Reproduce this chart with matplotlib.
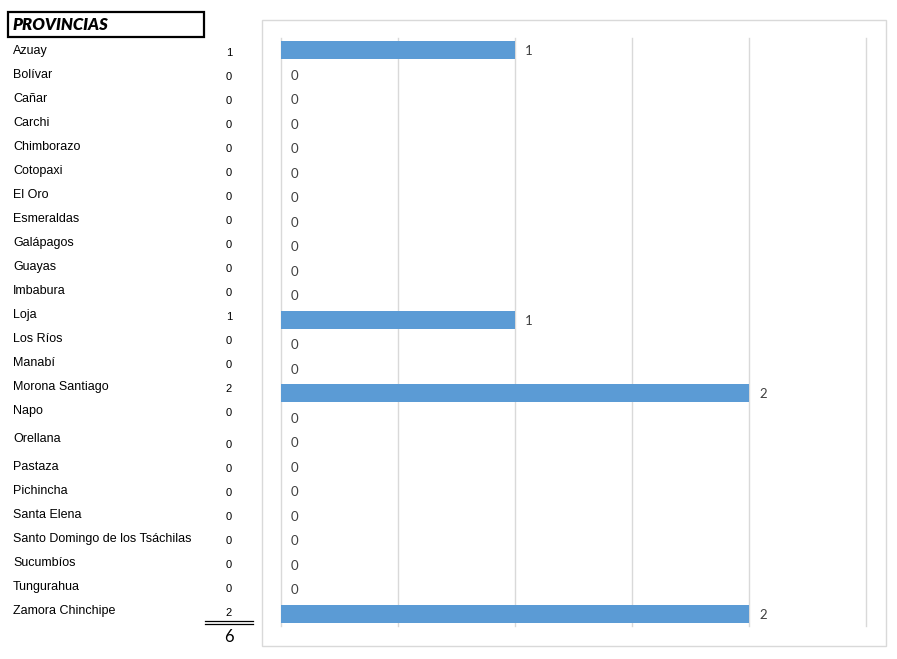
import matplotlib.pyplot as plt
from matplotlib.patches import Rectangle
from matplotlib.lines import Line2D

# Data: cases per province
provinces = ['Azuay', 'Bolívar', 'Cañar', 'Carchi', 'Chimborazo', 'Cotopaxi',
             'El Oro', 'Esmeraldas', 'Galápagos', 'Guayas', 'Imbabura', 'Loja',
             'Los Ríos', 'Manabí', 'Morona Santiago', 'Napo', 'Orellana',
             'Pastaza', 'Pichincha', 'Santa Elena',
             'Santo Domingo de los Tsáchilas', 'Sucumbíos', 'Tungurahua',
             'Zamora Chinchipe']
cases = [1, 0, 0, 0, 0, 0, 0, 0, 0, 0, 0, 1, 0, 0, 2, 0, 0, 0, 0, 0, 0, 0, 0, 2]
header = 'PROVINCIAS'

W, H = 897, 659
fig = plt.figure(figsize=(W / 100, H / 100), dpi=100)


def fx(px):
    return px / W


def fy(py):
    return 1 - py / H


## --- left table --- ##
fig.patches.append(Rectangle((fx(8), fy(37)), fx(196), 25 / H, transform=fig.transFigure,
                             fill=False, edgecolor='black', linewidth=1.6))
fig.text(fx(13), fy(25), header, fontsize=12, fontweight='heavy', fontstyle='italic',
         family='Lato', va='center', ha='left')

for i, (name, val) in enumerate(zip(provinces, cases)):
    y_name = 50 + 24 * i + 4 * (i >= 16) + 4 * (i >= 17)
    y_val = y_name + 2 + 4 * (i == 16)
    fig.text(fx(13), fy(y_name + 1), name, fontsize=9, family='Liberation Sans',
             va='center', ha='left')
    fig.text(fx(229), fy(y_val + 1), str(val), fontsize=8, family='Liberation Sans',
             va='center', ha='center')

# double underline and total
for yy in (621, 624):
    fig.add_artist(Line2D([fx(205), fx(253)], [fy(yy), fy(yy)], color='black', linewidth=0.9))
fig.text(fx(229), fy(637), str(sum(cases)), fontsize=12, family='Lato',
         va='center', ha='center')

## --- bar chart --- ##
fig.patches.append(Rectangle((fx(262), fy(646)), fx(624), 626 / H, transform=fig.transFigure,
                             fill=False, edgecolor='#D9D9D9', linewidth=1))

ax = fig.add_axes([fx(281), fy(626), fx(866) - fx(281), fy(38) - fy(626)])
pos = list(range(len(provinces)))
ax.barh(pos, cases, height=0.72, color='#5B9BD5', zorder=2)
ax.set_xlim(0, 2.5)
ax.set_ylim(len(provinces) - 0.5, -0.5)
ax.set_xticks([0, 0.5, 1, 1.5, 2, 2.5])
ax.set_yticks([])
ax.grid(axis='x', color='#D9D9D9', linewidth=1, zorder=0)
for gl in ax.get_xgridlines():
    gl.set_clip_on(False)
ax.tick_params(axis='x', length=0, labelbottom=False)
for s in ax.spines.values():
    s.set_visible(False)

for p, v in zip(pos, cases):
    ax.annotate(str(v), (v, p), xytext=(10, -1), textcoords='offset pixels',
                va='center', ha='left', fontsize=9.5, family='Lato', color='#404040')

fig.savefig('out.png', dpi=100)
